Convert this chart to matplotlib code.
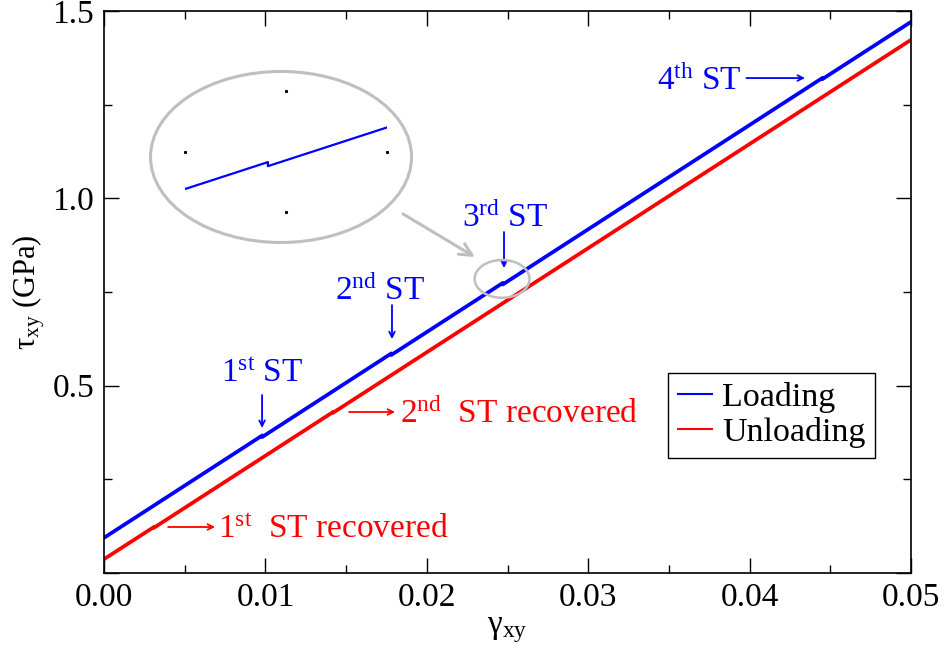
import numpy as np
import matplotlib
matplotlib.use("Agg")
import matplotlib.pyplot as plt
from matplotlib.patches import Ellipse

plt.rcParams['font.family'] = ['Liberation Serif', 'DejaVu Serif']
plt.rcParams['mathtext.fontset'] = 'custom'
plt.rcParams['mathtext.rm'] = 'Liberation Serif'
plt.rcParams['mathtext.it'] = 'Liberation Serif:italic'
plt.rcParams['mathtext.bf'] = 'Liberation Serif:bold'

# loading curve (small stress drops at each stacking transition)
load_strain = [0.0, 0.0098, 0.0098, 0.0178, 0.0178, 0.0247, 0.0247, 0.0445, 0.0445, 0.05]
load_stress = [0.094, 0.367, 0.363, 0.586, 0.582, 0.774, 0.770, 1.321, 1.318, 1.471]

# unloading curve
unload_strain = [0.0, 0.0031, 0.0031, 0.0142, 0.0142, 0.05]
unload_stress = [0.037, 0.123, 0.121, 0.430, 0.428, 1.423]

x_ticks = [0.0, 0.01, 0.02, 0.03, 0.04, 0.05]
x_ticklabels = ['0.00', '0.01', '0.02', '0.03', '0.04', '0.05']
y_ticks = [0.0, 0.5, 1.0, 1.5]
y_ticklabels = ['', '0.5', '1.0', '1.5']

blue = (0.0, 0.0, 1.0)
red = (1.0, 0.0, 0.0)
gray = (0.75, 0.75, 0.75)

fig = plt.figure(figsize=(9.45, 6.53), dpi=100)
ax = fig.add_axes([0.1101, 0.1225, 0.8540, 0.8607])

ax.plot(load_strain, load_stress, color=blue, lw=2.7, label='Loading')
ax.plot(unload_strain, unload_stress, color=red, lw=2.7, label='Unloading')

ax.set_xlim(0, 0.05)
ax.set_ylim(0, 1.5)
ax.set_xticks(x_ticks)
ax.set_xticklabels(x_ticklabels)
ax.set_yticks(y_ticks)
ax.set_yticklabels(y_ticklabels)
ax.set_xticks(np.arange(0.005, 0.05, 0.01), minor=True)
ax.set_yticks([0.25, 0.75, 1.25], minor=True)
ax.tick_params(which='both', direction='in', top=True, right=True, width=1.0,
               labelsize=24, pad=7)
ax.tick_params(which='major', length=11)
ax.tick_params(which='minor', length=5.5)
for s in ax.spines.values():
    s.set_linewidth(1.2)

ax.set_xlabel(r'$\mathrm{γ}_{\mathrm{xy}}$', fontsize=24, labelpad=1)
ax.set_ylabel(r'$\mathrm{τ}_{\mathrm{xy}}$ (GPa)', fontsize=22, labelpad=4)

leg = ax.legend(loc='lower left', bbox_to_anchor=(0.699, 0.205), borderaxespad=0,
                fontsize=24.5, handlelength=1.0, handletextpad=0.3, labelspacing=0.12,
                fancybox=False, framealpha=1, edgecolor='black', borderpad=0.28)
leg.get_frame().set_linewidth(1.0)
for line in leg.get_lines():
    line.set_linewidth(1.5)

# stacking transition labels
arrow_kw = dict(arrowstyle='->', lw=1.3, shrinkA=0, shrinkB=0)
load_notes = [
    (r'$1^{\mathrm{st}}$ ST', 0.00979, 0.510, (0.00979, 0.475), (0.00979, 0.387)),
    (r'$2^{\mathrm{nd}}$ ST', 0.0171, 0.729, (0.01784, 0.715), (0.01784, 0.624)),
    (r'$3^{\mathrm{rd}}$ ST', 0.02485, 0.923, (0.02478, 0.910), (0.02478, 0.814)),
]
for txt, tx, ty, tail, head in load_notes:
    ax.text(tx, ty, txt, color=blue, fontsize=24, ha='center', va='baseline')
    ax.annotate('', xy=head, xytext=tail, arrowprops=dict(color=blue, **arrow_kw))

ax.text(0.0369, 1.289, r'$4^{\mathrm{th}}$ ST', color=blue, fontsize=24, ha='center', va='baseline')
ax.annotate('', xy=(0.04343, 1.321), xytext=(0.0398, 1.321), arrowprops=dict(color=blue, **arrow_kw))

ax.text(0.00706, 0.093, r'$1^{\mathrm{st}}$  ST recovered', color=red, fontsize=24, ha='left', va='baseline')
ax.annotate('', xy=(0.00688, 0.1228), xytext=(0.00397, 0.1228), arrowprops=dict(color=red, **arrow_kw))
ax.text(0.01834, 0.400, r'$2^{\mathrm{nd}}$  ST recovered', color=red, fontsize=24, ha='left', va='baseline')
ax.annotate('', xy=(0.01803, 0.4297), xytext=(0.01518, 0.4297), arrowprops=dict(color=red, **arrow_kw))

# magnifier around the 3rd transition
ax.add_patch(Ellipse((0.02466, 0.785), 0.0034, 0.101, fill=False, edgecolor=gray, lw=1.8, zorder=5))
fig.patches.append(Ellipse((0.2974, 0.7596), 0.2762, 0.2619, fill=False, edgecolor=gray,
                           lw=2.2, transform=fig.transFigure, figure=fig))
ax.annotate('', xy=(0.5026, 0.6064), xytext=(0.4265, 0.6723), xycoords='figure fraction',
            textcoords='figure fraction',
            arrowprops=dict(arrowstyle='->', color=gray, lw=2.2, shrinkA=0, shrinkB=0,
                            mutation_scale=22))

ins = fig.add_axes([0.1958, 0.6753, 0.2138, 0.1853])
ins.plot(load_strain, load_stress, color=blue, lw=1.6)
x0 = 0.0247 - 0.41 * 0.00234
x1 = x0 + 0.00234
y_left = np.interp(x0, load_strain[:7], load_stress[:7])
ins.set_xlim(x0, x1)
ins.set_ylim(y_left - 0.19 * 0.12, y_left + 0.81 * 0.12)
ins.axis('off')
ins.plot([0.5, 0.0, 1.0, 0.5], [1.0, 0.5, 0.5, 0.0], ls='none', marker='s', ms=1.2,
         color='black', transform=ins.transAxes, clip_on=False)

plt.savefig('out.png', dpi=100)
